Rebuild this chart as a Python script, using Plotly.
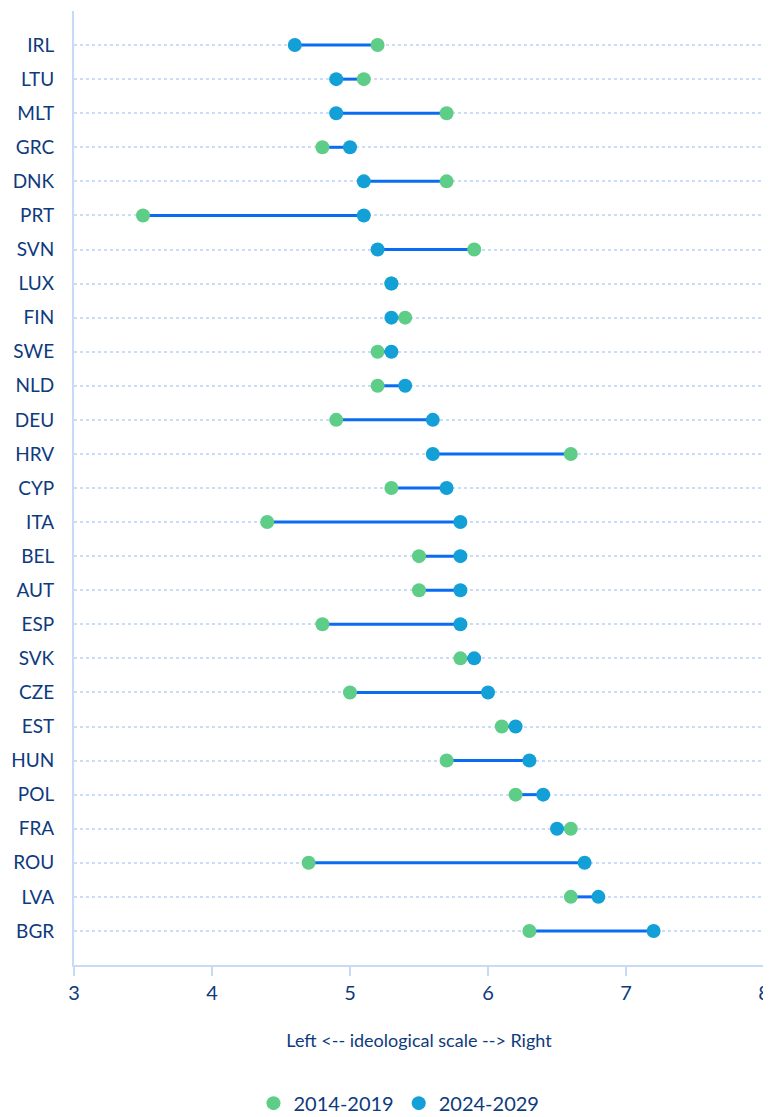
import plotly.graph_objects as go

countries = ["IRL", "LTU", "MLT", "GRC", "DNK", "PRT", "SVN", "LUX", "FIN", "SWE",
             "NLD", "DEU", "HRV", "CYP", "ITA", "BEL", "AUT", "ESP", "SVK", "CZE",
             "EST", "HUN", "POL", "FRA", "ROU", "LVA", "BGR"]
v2014 = [5.2, 5.1, 5.7, 4.8, 5.7, 3.5, 5.9, 5.3, 5.4, 5.2,
         5.2, 4.9, 6.6, 5.3, 4.4, 5.5, 5.5, 4.8, 5.8, 5.0,
         6.1, 5.7, 6.2, 6.6, 4.7, 6.6, 6.3]
v2024 = [4.6, 4.9, 4.9, 5.0, 5.1, 5.1, 5.2, 5.3, 5.3, 5.3,
         5.4, 5.6, 5.6, 5.7, 5.8, 5.8, 5.8, 5.8, 5.9, 6.0,
         6.2, 6.3, 6.4, 6.5, 6.7, 6.8, 7.2]
series_names = ["2014-2019", "2024-2029"]
x_ticks = [3, 4, 5, 6, 7, 8]

GREEN = "#5ecd87"
BLUE = "#13a0d6"
LINE = "#0a6cf2"
TEXT = "#0e3a7e"
AXIS = "#c7dbf6"
GRID = "#c9ddfa"
FONT = "Lato"

n = len(countries)
idx = list(range(n))

fig = go.Figure()

# connecting lines
lx, ly = [], []
for i in idx:
    lx += [v2014[i], v2024[i], None]
    ly += [i, i, None]
fig.add_trace(go.Scatter(x=lx, y=ly, mode="lines", line=dict(color=LINE, width=3),
                         showlegend=False, hoverinfo="skip"))

# low then high markers so right-hand dot is on top
lo_x, lo_c, hi_x, hi_c = [], [], [], []
for i in idx:
    a, b = v2014[i], v2024[i]
    if a <= b:
        lo_x.append(a); lo_c.append(GREEN); hi_x.append(b); hi_c.append(BLUE)
    else:
        lo_x.append(b); lo_c.append(BLUE); hi_x.append(a); hi_c.append(GREEN)
fig.add_trace(go.Scatter(x=lo_x, y=idx, mode="markers",
                         marker=dict(color=lo_c, size=14, line=dict(width=0)),
                         showlegend=False))
fig.add_trace(go.Scatter(x=hi_x, y=idx, mode="markers",
                         marker=dict(color=hi_c, size=14, line=dict(width=0)),
                         showlegend=False))

# legend entries
for name, col in zip(series_names, [GREEN, BLUE]):
    fig.add_trace(go.Scatter(x=[None], y=[None], mode="markers", name=name,
                             marker=dict(color=col, size=14)))

fig.update_layout(
    width=763, height=1109,
    margin=dict(l=66, r=7, t=3, b=152),
    paper_bgcolor="white", plot_bgcolor="white",
    font=dict(family=FONT, color=TEXT, size=19),
    showlegend=True,
    legend=dict(orientation="h", x=0.471, xanchor="center",
                yref="container", y=0.0125, yanchor="middle",
                font=dict(size=20, color=TEXT), itemsizing="trace",
                itemwidth=30, tracegroupgap=0),
)
fig.update_xaxes(range=[3, 8], tickvals=x_ticks, showgrid=False, zeroline=False,
                 showline=True, linecolor=AXIS, linewidth=2, automargin=False,
                 ticks="outside", ticklen=9, tickcolor=AXIS, tickwidth=2,
                 tickfont=dict(size=20, color=TEXT),
                 title=dict(text="Left <-- ideological scale --> Right",
                            font=dict(size=18, color=TEXT), standoff=31))
fig.update_yaxes(range=[n, -1], tickvals=[-1] + idx, ticktext=[""] + countries,
                 showgrid=True, gridcolor=GRID, griddash="dot", gridwidth=2,
                 zeroline=False, showline=True, linecolor=AXIS, linewidth=2,
                 ticks="", ticklabelstandoff=14, automargin=False,
                 tickfont=dict(size=19, color=TEXT))

fig.write_html("out.html")
